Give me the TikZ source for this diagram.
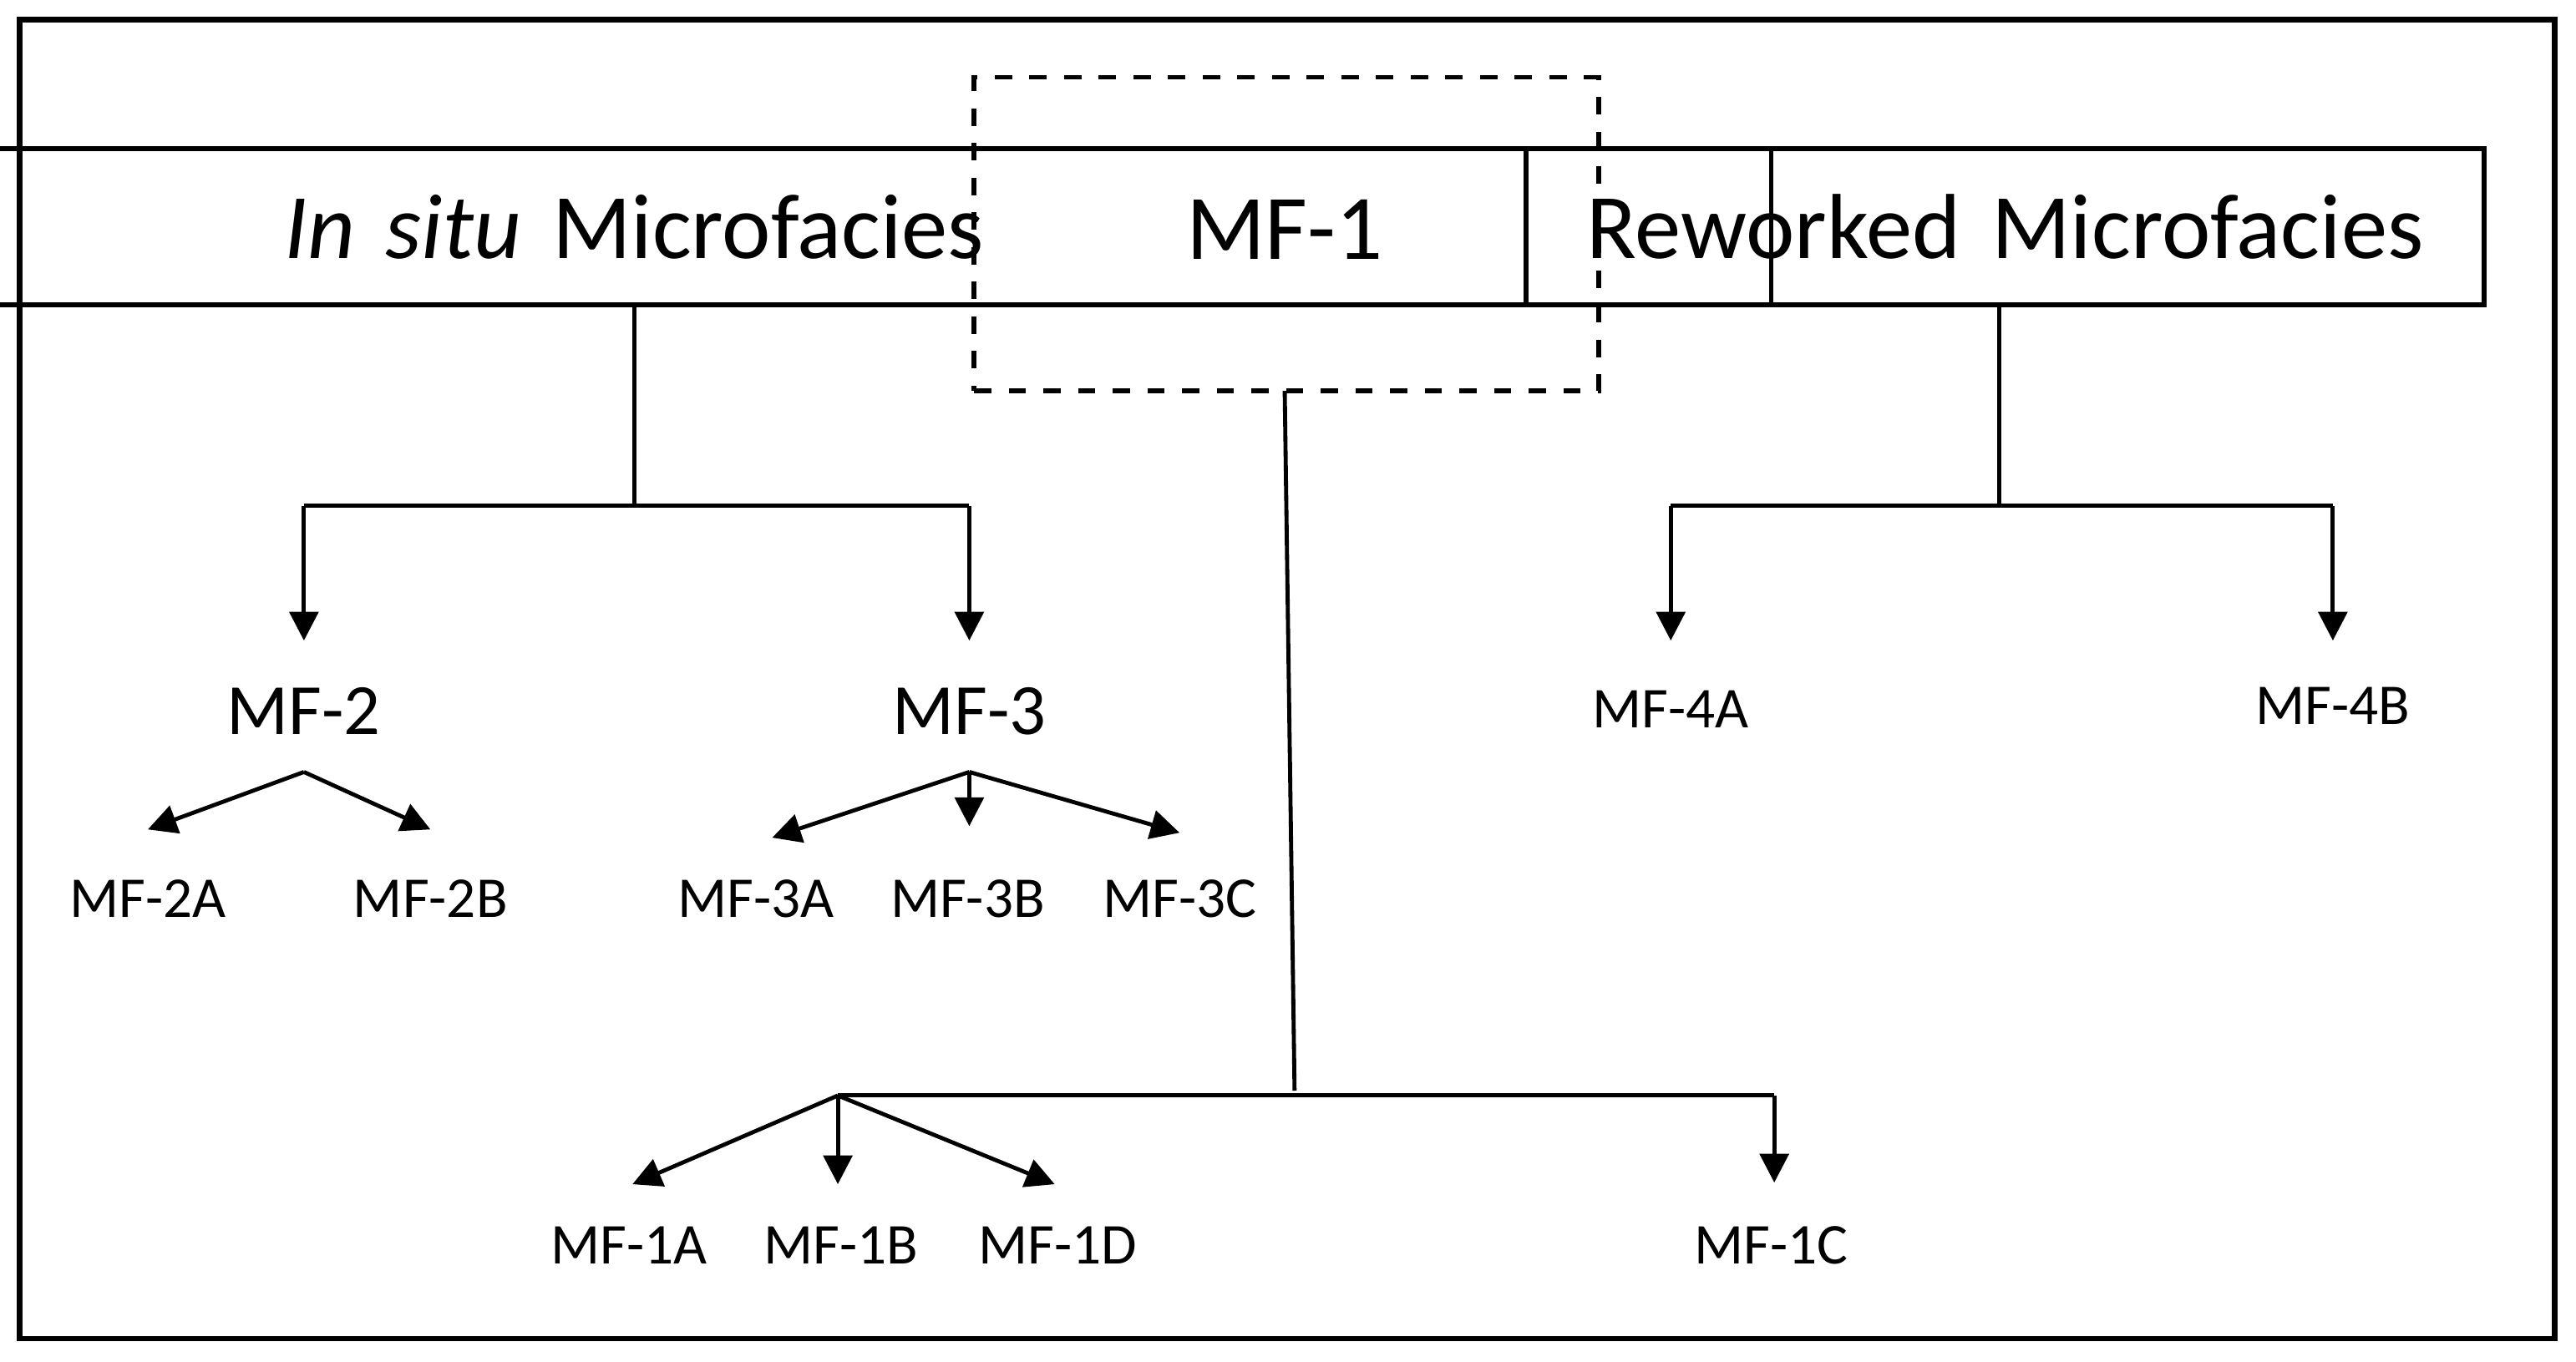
\documentclass[tikz,border=0pt]{standalone}
\usepackage{fontspec}
\setmainfont{Carlito}
\usetikzlibrary{arrows.meta}
\begin{document}
\begin{tikzpicture}[x=0.01cm,y=-0.01cm,
  ln/.style={line width=0.7pt},
  ar/.style={ln,-{Triangle[length=5pt,width=5pt]}},
  big/.style={draw,line width=0.8pt,inner sep=0pt,font=\fontsize{16}{18}\selectfont},
  mid/.style={inner sep=1pt,font=\fontsize{12.5}{14}\selectfont},
  sm/.style={inner sep=1pt,font=\fontsize{10}{12}\selectfont}]
\useasboundingbox (0,0) rectangle (1568,829);
\draw[line width=1pt] (12,12) rectangle (1555,815);
% top boxes
\node[big,minimum width=492\pgflinewidth,text width=4.92cm,minimum height=0.95cm,align=center] (ins) at (386,138) {\textit{In situ} Microfacies};
\node[big,text width=5.83cm,minimum height=0.95cm,align=center] (rew) at (1220.5,138) {Reworked Microfacies};
\node[draw,dashed,line width=0.8pt,minimum width=3.8cm,minimum height=1.91cm,inner sep=0pt] (mf1box) at (783,142.5) {};
\node[inner sep=0pt,font=\fontsize{16}{18}\selectfont] (mf1) at (782,140) {MF-1};
% in situ branch
\coordinate (j1) at (386,308);
\coordinate (j1l) at (185,308);
\coordinate (j1r) at (590,308);
\node[mid] (mf2) at (185,433) {MF-2};
\node[mid] (mf3) at (590,433) {MF-3};
\draw[ln] (ins.south) -- (j1);
\draw[ln] (j1l) -- (j1r);
\draw[ar] (j1l) -- (185,390);
\draw[ar] (j1r) -- (590,390);
\node[sm] (mf2a) at (90,547) {MF-2A};
\node[sm] (mf2b) at (262,547) {MF-2B};
\coordinate (b2) at (185,470);
\draw[ar] (b2) -- (90,505);
\draw[ar] (b2) -- (262,505);
\node[sm] (mf3a) at (460,547) {MF-3A};
\node[sm] (mf3b) at (589,547) {MF-3B};
\node[sm] (mf3c) at (718,547) {MF-3C};
\coordinate (b3) at (590,470);
\draw[ar] (b3) -- (470,510);
\draw[ar] (b3) -- (590,503);
\draw[ar] (b3) -- (718,507);
% reworked branch
\coordinate (j4) at (1217,308);
\coordinate (j4l) at (1017,308);
\coordinate (j4r) at (1420,308);
\draw[ln] (1217,186) -- (j4);
\draw[ln] (j4l) -- (j4r);
\draw[ar] (j4l) -- (1017,390);
\draw[ar] (j4r) -- (1420,390);
\node[sm] (mf4a) at (1017,432) {MF-4A};
\node[sm] (mf4b) at (1420,430) {MF-4B};
% MF-1 branch
\coordinate (t1) at (782,238);
\coordinate (j5) at (788,664);
\coordinate (j5l) at (510,667);
\coordinate (j5r) at (1080,667);
\draw[ln] (t1) -- (j5);
\draw[ln] (j5l) -- (j5r);
\draw[ar] (j5r) -- (1080,720);
\draw[ar] (j5l) -- (385,721);
\draw[ar] (j5l) -- (510,721);
\draw[ar] (j5l) -- (642,721);
\node[sm] (mf1a) at (383,758) {MF-1A};
\node[sm] (mf1b) at (512,758) {MF-1B};
\node[sm] (mf1d) at (644,758) {MF-1D};
\node[sm] (mf1c) at (1078,758) {MF-1C};
\end{tikzpicture}
\end{document}
